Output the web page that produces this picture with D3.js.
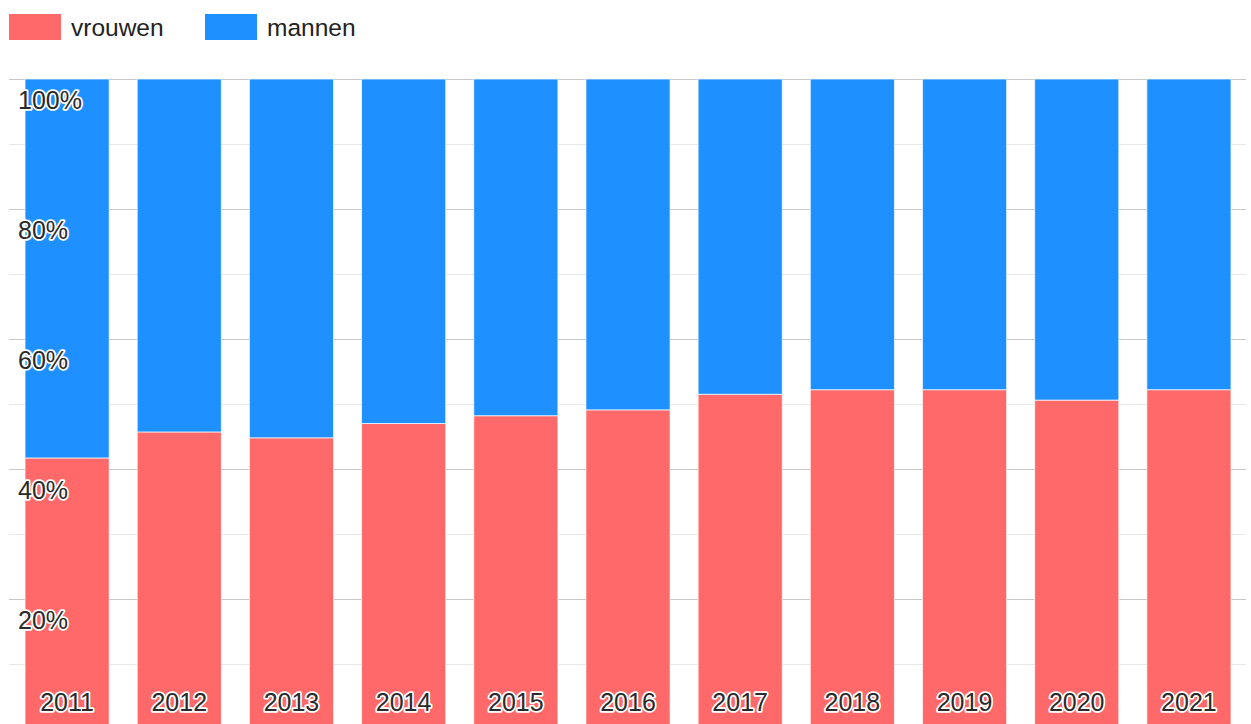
<!DOCTYPE html>
<html>
<head>
<meta charset="utf-8">
<script src="https://cdn.jsdelivr.net/npm/d3@7"></script>
<style>
  html, body { margin: 0; padding: 0; background: #fff; overflow: hidden; }
  svg { display: block; font-family: Arial, "Liberation Sans", sans-serif; }
  .halo { paint-order: stroke; stroke: #fff; stroke-width: 3.5px; stroke-linejoin: round; fill: #2a2a2a; }
</style>
</head>
<body>
<div id="chart"></div>
<script>
const years = ['2011', '2012', '2013', '2014', '2015', '2016', '2017', '2018', '2019', '2020', '2021'];
const vrouwen = [41.7, 45.7, 44.8, 47.0, 48.2, 49.1, 51.5, 52.2, 52.2, 50.6, 52.2];
const mannen = [58.3, 54.3, 55.2, 53.0, 51.8, 50.9, 48.5, 47.8, 47.8, 49.4, 47.8];
const series = ['vrouwen', 'mannen'];
const colors = ['#ff6969', '#1e90ff'];
const majorTicks = [20, 40, 60, 80, 100];
const minorTicks = [10, 30, 50, 70, 90];

const width = 1251, height = 724;
const area = { left: 9, right: 1246, top: 79, bottom: 729 };

const svg = d3.select('#chart').append('svg')
  .attr('width', width)
  .attr('height', height);

const x = d3.scaleBand()
  .domain(years)
  .range([11, 1245])
  .paddingInner(0.25)
  .paddingOuter(0.125);

const y = d3.scaleLinear()
  .domain([0, 100])
  .range([area.bottom, area.top]);

const table = years.map((yr, i) => ({ year: yr, vrouwen: vrouwen[i], mannen: mannen[i] }));
const stacked = d3.stack().keys(series)(table);

// minor gridlines
svg.append('g')
  .selectAll('line')
  .data(minorTicks)
  .join('line')
  .attr('x1', area.left).attr('x2', area.right)
  .attr('y1', d => Math.round(y(d)) + 0.5).attr('y2', d => Math.round(y(d)) + 0.5)
  .attr('stroke', '#e8e8e8');

// major gridlines
svg.append('g')
  .selectAll('line')
  .data(majorTicks)
  .join('line')
  .attr('x1', area.left).attr('x2', area.right)
  .attr('y1', d => Math.round(y(d)) + 0.5).attr('y2', d => Math.round(y(d)) + 0.5)
  .attr('stroke', '#c8c8c8');

// bars
svg.append('g')
  .selectAll('g')
  .data(stacked)
  .join('g')
  .attr('fill', (d, i) => colors[i])
  .selectAll('rect')
  .data(d => d)
  .join('rect')
  .attr('x', d => x(d.data.year))
  .attr('width', x.bandwidth())
  .attr('y', d => y(d[1]))
  .attr('height', d => y(d[0]) - y(d[1]))
  .attr('stroke', '#ffffff')
  .attr('stroke-opacity', 0.7)
  .attr('stroke-width', 1);

// y labels (inside)
svg.append('g')
  .selectAll('text')
  .data(majorTicks)
  .join('text')
  .attr('class', 'halo')
  .attr('x', 18)
  .attr('y', d => y(d) + 30)
  .attr('font-size', 25)
  .text(d => d + '%');

// x labels (inside)
svg.append('g')
  .selectAll('text')
  .data(years)
  .join('text')
  .attr('class', 'halo')
  .attr('x', d => x(d) + x.bandwidth() / 2)
  .attr('y', 711)
  .attr('text-anchor', 'middle')
  .attr('font-size', 25)
  .text(d => d);

// legend
const legend = svg.append('g')
  .selectAll('g')
  .data(series)
  .join('g')
  .attr('transform', (d, i) => `translate(${9 + i * 196},14)`);

legend.append('rect')
  .attr('width', 52)
  .attr('height', 26)
  .attr('fill', (d, i) => colors[i]);

legend.append('text')
  .attr('x', 62)
  .attr('y', 22)
  .attr('font-size', 24.5)
  .attr('fill', '#222')
  .text(d => d);
</script>
</body>
</html>
